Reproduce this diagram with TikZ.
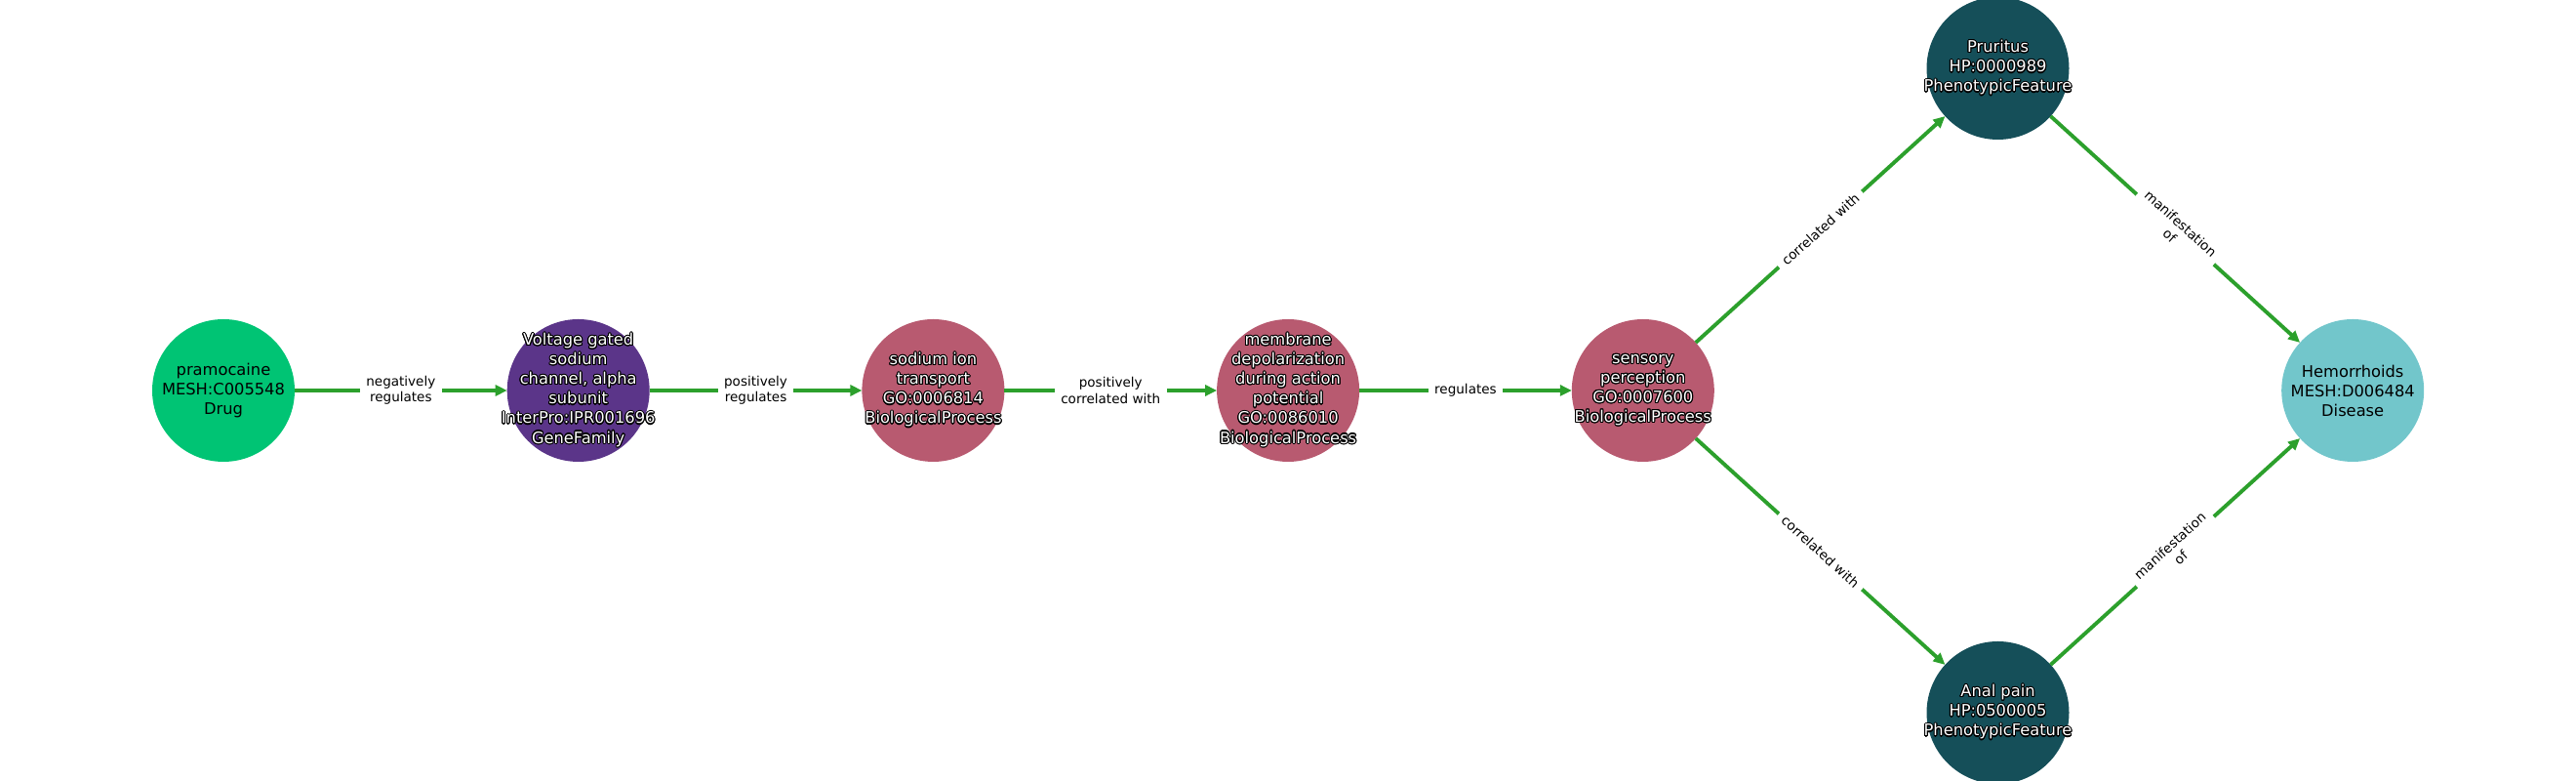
\documentclass[tikz,border=0pt]{standalone}
\usepackage{fontspec}
\setmainfont{DejaVu Sans}
\usepackage[copies]{contour}
\contourlength{0.3pt}
\usetikzlibrary{arrows.meta}
\definecolor{drugcol}{RGB}{0,196,116}
\definecolor{genecol}{RGB}{91,53,137}
\definecolor{biocol}{RGB}{184,90,112}
\definecolor{phenocol}{RGB}{21,79,89}
\definecolor{diseasecol}{RGB}{114,198,203}
\definecolor{edgecol}{RGB}{44,160,44}
\newcommand{\wl}[1]{\contour{black}{#1}}

\begin{document}
\begin{tikzpicture}[x=1cm,y=1cm,
  entity/.style={circle, minimum size=1.46cm, inner sep=0pt, outer sep=0pt},
  nametext/.style={inner sep=0pt, align=center, font=\fontsize{4.63}{5.7}\selectfont},
  edge/.style={draw=edgecol, line width=1.1pt, -{Triangle[length=0.12cm,width=0.11cm]}},
  elabel/.style={fill=white, inner xsep=0.065cm, inner ysep=0.03cm, align=center, font=\fontsize{3.85}{4.7}\selectfont}]
\clip (0,0) rectangle (26.4000,8.0000);
\node[entity, fill=drugcol, label={[nametext, text=black]center:pramocaine\\MESH:C005548\\Drug}] (pram) at (2.2900,4.0000) {};
\node[entity, fill=genecol, label={[nametext, text=white]center:\wl{Voltage gated}\\\wl{sodium}\\\wl{channel, alpha}\\\wl{subunit}\\\wl{InterPro:IPR001696}\\\wl{GeneFamily}}] (vgsc) at (5.9270,4.0000) {};
\node[entity, fill=biocol, label={[nametext, text=white]center:\wl{sodium ion}\\\wl{transport}\\\wl{GO:0006814}\\\wl{BiologicalProcess}}] (sodium) at (9.5640,4.0000) {};
\node[entity, fill=biocol, label={[nametext, text=white]center:\wl{membrane}\\\wl{depolarization}\\\wl{during action}\\\wl{potential}\\\wl{GO:0086010}\\\wl{BiologicalProcess}}] (membrane) at (13.2010,4.0000) {};
\node[entity, fill=biocol, label={[nametext, text=white]center:\wl{sensory}\\\wl{perception}\\\wl{GO:0007600}\\\wl{BiologicalProcess}}] (sensory) at (16.8380,4.0000) {};
\node[entity, fill=phenocol, label={[nametext, text=white]center:\wl{Pruritus}\\\wl{HP:0000989}\\\wl{PhenotypicFeature}}] (pruritus) at (20.4750,7.3000) {};
\node[entity, fill=phenocol, label={[nametext, text=white]center:\wl{Anal pain}\\\wl{HP:0500005}\\\wl{PhenotypicFeature}}] (analpain) at (20.4750,0.7000) {};
\node[entity, fill=diseasecol, label={[nametext, text=black]center:Hemorrhoids\\MESH:D006484\\Disease}] (hemorrhoids) at (24.1120,4.0000) {};
\draw[edge] (pram) -- node[elabel] {negatively\\regulates} (vgsc);
\draw[edge] (vgsc) -- node[elabel] {positively\\regulates} (sodium);
\draw[edge] (sodium) -- node[elabel] {positively\\correlated with} (membrane);
\draw[edge] (membrane) -- node[elabel] {regulates} (sensory);
\draw[edge] (sensory) -- node[elabel, sloped] {correlated with} (pruritus);
\draw[edge] (sensory) -- node[elabel, sloped] {correlated with} (analpain);
\draw[edge] (pruritus) -- node[elabel, sloped] {manifestation\\of} (hemorrhoids);
\draw[edge] (analpain) -- node[elabel, sloped] {manifestation\\of} (hemorrhoids);
\end{tikzpicture}
\end{document}
